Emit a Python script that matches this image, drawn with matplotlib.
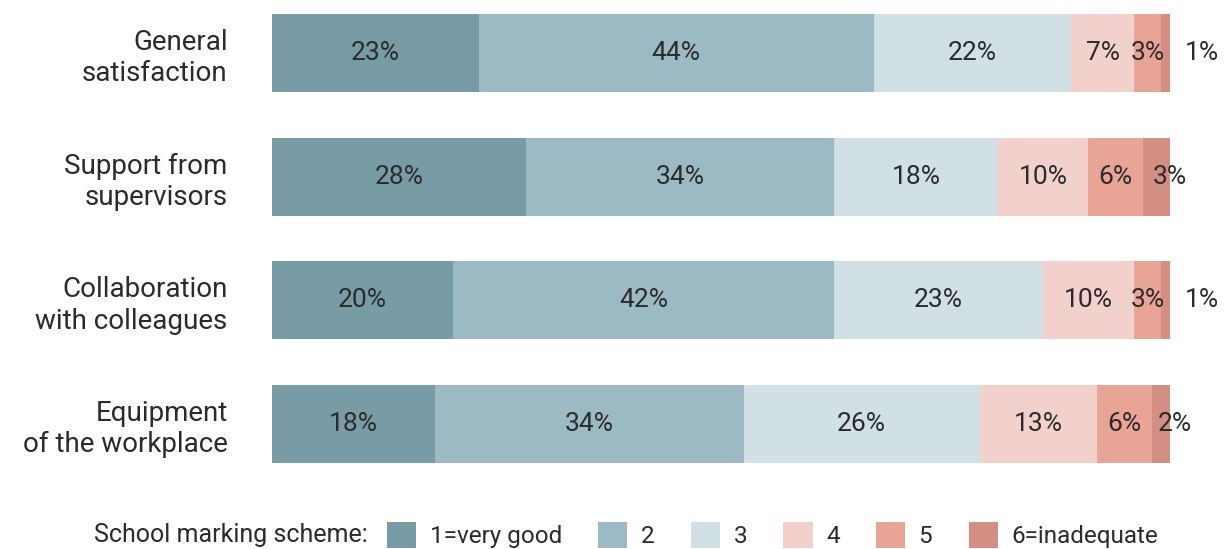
import matplotlib
matplotlib.use("Agg")
import matplotlib.pyplot as plt
from matplotlib.patches import Patch
import numpy as np

plt.rcParams['font.family'] = ['Roboto', 'DejaVu Sans']

categories = ["General\nsatisfaction", "Support from\nsupervisors",
              "Collaboration\nwith colleagues", "Equipment\nof the workplace"]
grades = ["1=very good", "2", "3", "4", "5", "6=inadequate"]
values = [
    [23, 44, 22, 7, 3, 1],
    [28, 34, 18, 10, 6, 3],
    [20, 42, 23, 10, 3, 1],
    [18, 34, 26, 13, 6, 2],
]
colors = ["#789ca6", "#9bbac3", "#d0e0e4", "#f2d0cc", "#e8a596", "#d48f85"]
legend_title = "School marking scheme:"

text_color = "#2b2b2b"

fig = plt.figure(figsize=(12.3, 5.49), dpi=100)
ax = fig.add_axes([272/1230, (549-478)/549, 898/1230, 478/549])

vals = np.array(values, dtype=float)
norm = vals / vals.sum(axis=1, keepdims=True) * 100
y = np.arange(len(categories))
left = np.zeros(len(categories))
for j in range(len(grades)):
    ax.barh(y, norm[:, j], left=left, height=0.63, color=colors[j],
            edgecolor='none', label=grades[j])
    for i in range(len(categories)):
        w = norm[i, j]
        x = left[i] + w / 2
        if j == len(grades) - 1:
            x = 103.5 if values[i][j] <= 1 else x + 1.5
        ax.text(x, y[i], f"{values[i][j]}%", ha='center', va='center',
                fontsize=19, color=text_color)
    left += norm[:, j]

ax.set_xlim(0, 100)
ax.set_ylim(3.436, -0.428)
ax.set_yticks(y)
ax.set_yticklabels(categories, fontsize=20, color=text_color,
                   linespacing=1.2)
ax.tick_params(axis='y', length=0, pad=32)
for lbl in ax.get_yticklabels():
    lbl.set_horizontalalignment('right')
ax.set_xticks([])
for s in ax.spines.values():
    s.set_visible(False)

leg_y = 1 - 535/549
fig.text(368/1230, leg_y, legend_title, ha='right', va='center',
         fontsize=18, color=text_color)
handles = [Patch(facecolor=c, edgecolor='none', label=g) for c, g in zip(colors, grades)]
leg = fig.legend(handles=handles, loc='center left', bbox_to_anchor=(387/1230, leg_y),
                 ncol=6, frameon=False, fontsize=17.5, handlelength=1.2,
                 handleheight=1.25, handletextpad=0.55, columnspacing=1.5,
                 borderpad=0, borderaxespad=0, labelcolor=text_color)

fig.savefig("out.png", dpi=100, facecolor='white')
